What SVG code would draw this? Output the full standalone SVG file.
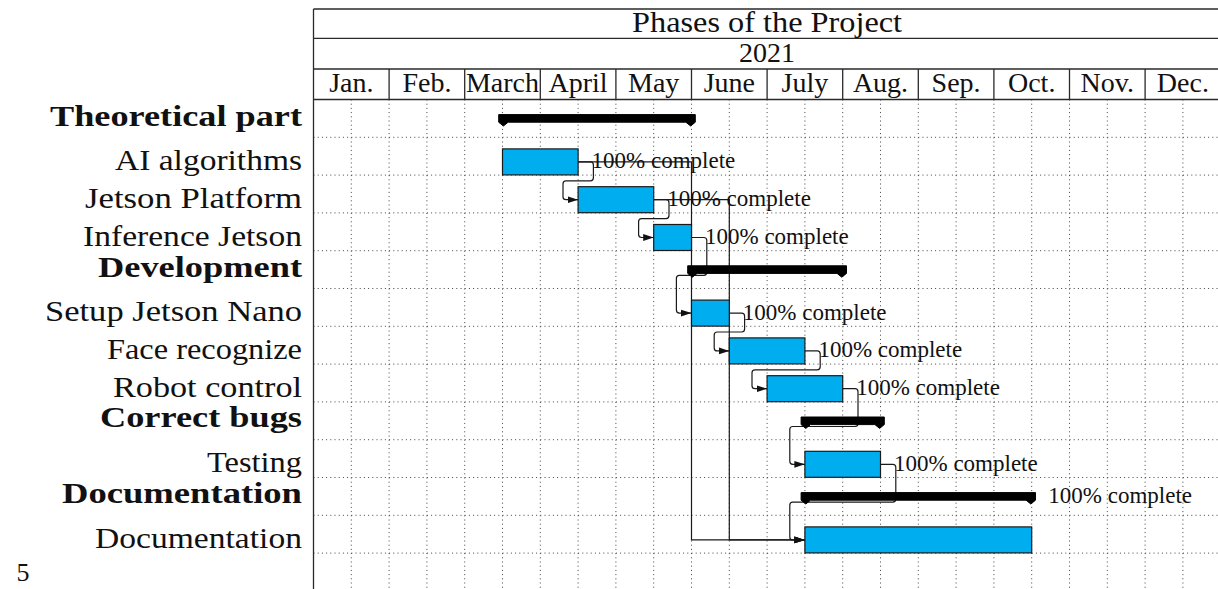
<svg xmlns="http://www.w3.org/2000/svg" width="1218" height="589" viewBox="0 0 1218 589">
<defs>
<marker id="arr" markerUnits="userSpaceOnUse" markerWidth="11" markerHeight="8" refX="10.5" refY="4" orient="auto"><path d="M0,0.6 L10.5,4 L0,7.4 Z" fill="#111"/></marker>
</defs>
<style>
.frame{stroke:#2a2a2a;stroke-width:1.3;fill:none}
.grid{stroke:#444;stroke-width:1;stroke-dasharray:1 3.2;fill:none}
.hdr{font-family:"Liberation Serif",serif;fill:#111;text-anchor:middle}
.lbl{font-family:"Liberation Serif",serif;font-size:29.5px;fill:#111;text-anchor:end}
.b{font-weight:bold}
.bar{fill:#00AEEF;stroke:#1a1a1a;stroke-width:1.2}
.grp{fill:#000;stroke:#000;stroke-width:1;stroke-linejoin:round}
.pct{font-family:"Liberation Serif",serif;font-size:23px;fill:#111}
.link{fill:none;stroke:#1a1a1a;stroke-width:1.2;marker-end:url(#arr)}
</style>
<rect width="1218" height="589" fill="#fff"/>
<g id="grid">
<path class="grid" d="M351.3,99.5V589M389.1,99.5V589M426.9,99.5V589M464.7,99.5V589M502.5,99.5V589M540.3,99.5V589M578.1,99.5V589M615.9,99.5V589M653.7,99.5V589M691.5,99.5V589M729.3,99.5V589M767.1,99.5V589M804.9,99.5V589M842.7,99.5V589M880.5,99.5V589M918.3,99.5V589M956.1,99.5V589M993.9,99.5V589M1031.7,99.5V589M1069.5,99.5V589M1107.3,99.5V589M1145.1,99.5V589M1182.9,99.5V589"/>
<path class="grid" d="M313.5,137.3H1218M313.5,175.1H1218M313.5,212.9H1218M313.5,250.7H1218M313.5,288.5H1218M313.5,326.3H1218M313.5,364.1H1218M313.5,401.9H1218M313.5,439.7H1218M313.5,477.5H1218M313.5,515.3H1218M313.5,553.1H1218"/>
</g>
<g id="header">
<path class="frame" d="M313.5,9V589M313.5,9H1218M313.5,38.3H1218M313.5,69H1218M313.5,99.5H1218"/>
<path class="frame" d="M389.1,69V99.5M464.7,69V99.5M540.3,69V99.5M615.9,69V99.5M691.5,69V99.5M767.1,69V99.5M842.7,69V99.5M918.3,69V99.5M993.9,69V99.5M1069.5,69V99.5M1145.1,69V99.5"/>
<text class="hdr" x="767.1" y="31.5" font-size="29.5" textLength="270" lengthAdjust="spacingAndGlyphs">Phases of the Project</text>
<text class="hdr" x="767.1" y="61.7" font-size="28">2021</text>
<g font-size="28">
<text class="hdr" x="351.3" y="91.7">Jan.</text>
<text class="hdr" x="426.9" y="91.7">Feb.</text>
<text class="hdr" x="502.5" y="91.7">March</text>
<text class="hdr" x="578.1" y="91.7">April</text>
<text class="hdr" x="653.7" y="91.7">May</text>
<text class="hdr" x="729.3" y="91.7">June</text>
<text class="hdr" x="804.9" y="91.7">July</text>
<text class="hdr" x="880.5" y="91.7">Aug.</text>
<text class="hdr" x="956.1" y="91.7">Sep.</text>
<text class="hdr" x="1031.7" y="91.7">Oct.</text>
<text class="hdr" x="1107.3" y="91.7">Nov.</text>
<text class="hdr" x="1182.9" y="91.7">Dec.</text>
</g>
</g>
<g id="connectors">
<path class="link" d="M578.1,161.9 H691.5 V539.9 H804.9"/>
<path class="link" d="M653.7,199.7 H729.3 V539.9 H804.9"/>
<path class="link" d="M578.1,161.9 H590.4 Q593.4,161.9 593.4,164.9 V177.8 Q593.4,180.8 590.4,180.8 H566 Q563,180.8 563,183.8 V196.7 Q563,199.7 566,199.7 H578.1"/>
<path class="link" d="M653.7,199.7 H666 Q669,199.7 669,202.7 V215.6 Q669,218.6 666,218.6 H641.6 Q638.6,218.6 638.6,221.6 V234.5 Q638.6,237.5 641.6,237.5 H653.7"/>
<path class="link" d="M691.5,237.5 H703.8 Q706.8,237.5 706.8,240.5 V272.3 Q706.8,275.3 703.8,275.3 H679.4 Q676.4,275.3 676.4,278.3 V310.1 Q676.4,313.1 679.4,313.1 H691.5"/>
<path class="link" d="M729.3,313.1 H741.6 Q744.6,313.1 744.6,316.1 V329 Q744.6,332 741.6,332 H717.2 Q714.2,332 714.2,335 V347.9 Q714.2,350.9 717.2,350.9 H729.3"/>
<path class="link" d="M804.9,350.9 H817.2 Q820.2,350.9 820.2,353.9 V366.8 Q820.2,369.8 817.2,369.8 H755 Q752,369.8 752,372.8 V385.7 Q752,388.7 755,388.7 H767.1"/>
<path class="link" d="M842.7,388.7 H855 Q858,388.7 858,391.7 V423.5 Q858,426.5 855,426.5 H792.8 Q789.8,426.5 789.8,429.5 V461.3 Q789.8,464.3 792.8,464.3 H804.9"/>
<path class="link" d="M880.5,464.3 H892.8 Q895.8,464.3 895.8,467.3 V499.1 Q895.8,502.1 892.8,502.1 H792.8 Q789.8,502.1 789.8,505.1 V536.9 Q789.8,539.9 792.8,539.9 H804.9"/>
</g>
<g id="theoretical-part">
<text class="lbl b" x="302" y="125.5" textLength="252" lengthAdjust="spacingAndGlyphs">Theoretical part</text>
<path class="grp" d="M498.7,114.6 H695.3 V122.2 L690.6,126 L685.9,122.2 H508.1 L503.4,126 L498.7,122.2 Z"/>
</g>
<g id="ai-algorithms">
<text class="lbl" x="302" y="169.9" textLength="187" lengthAdjust="spacingAndGlyphs">AI algorithms</text>
<rect class="bar" x="502.5" y="148.9" width="75.6" height="26"/>
<text class="pct" x="591.6" y="168.4">100% complete</text>
</g>
<g id="jetson-platform">
<text class="lbl" x="302" y="207.7" textLength="217" lengthAdjust="spacingAndGlyphs">Jetson Platform</text>
<rect class="bar" x="578.1" y="186.7" width="75.6" height="26"/>
<text class="pct" x="667.2" y="206.2">100% complete</text>
</g>
<g id="inference-jetson">
<text class="lbl" x="302" y="245.5" textLength="219" lengthAdjust="spacingAndGlyphs">Inference Jetson</text>
<rect class="bar" x="653.7" y="224.5" width="37.8" height="26"/>
<text class="pct" x="705" y="244">100% complete</text>
</g>
<g id="development">
<text class="lbl b" x="302" y="276.7" textLength="204" lengthAdjust="spacingAndGlyphs">Development</text>
<path class="grp" d="M687.7,265.8 H846.5 V273.4 L841.8,277.2 L837.1,273.4 H697.1 L692.4,277.2 L687.7,273.4 Z"/>
</g>
<g id="setup-jetson-nano">
<text class="lbl" x="302" y="320.5" textLength="257" lengthAdjust="spacingAndGlyphs">Setup Jetson Nano</text>
<rect class="bar" x="691.5" y="300.1" width="37.8" height="26"/>
<text class="pct" x="742.8" y="319.6">100% complete</text>
</g>
<g id="face-recognize">
<text class="lbl" x="302" y="358.6" textLength="195" lengthAdjust="spacingAndGlyphs">Face recognize</text>
<rect class="bar" x="729.3" y="337.9" width="75.6" height="26"/>
<text class="pct" x="818.4" y="357.4">100% complete</text>
</g>
<g id="robot-control">
<text class="lbl" x="302" y="396.7" textLength="189" lengthAdjust="spacingAndGlyphs">Robot control</text>
<rect class="bar" x="767.1" y="375.7" width="75.6" height="26"/>
<text class="pct" x="856.2" y="395.2">100% complete</text>
</g>
<g id="correct-bugs">
<text class="lbl b" x="302" y="426.8" textLength="202" lengthAdjust="spacingAndGlyphs">Correct bugs</text>
<path class="grp" d="M801.1,417 H884.3 V424.6 L879.6,428.4 L874.9,424.6 H810.5 L805.8,428.4 L801.1,424.6 Z"/>
</g>
<g id="testing">
<text class="lbl" x="302" y="472" textLength="95" lengthAdjust="spacingAndGlyphs">Testing</text>
<rect class="bar" x="804.9" y="451.3" width="75.6" height="26"/>
<text class="pct" x="894" y="470.8">100% complete</text>
</g>
<g id="documentation-group">
<text class="lbl b" x="302" y="503.4" textLength="240" lengthAdjust="spacingAndGlyphs">Documentation</text>
<path class="grp" d="M801.1,492.6 H1035.5 V500.2 L1030.8,504 L1026.1,500.2 H810.5 L805.8,504 L801.1,500.2 Z"/>
<text class="pct" x="1048.3" y="503.3">100% complete</text>
</g>
<g id="documentation">
<text class="lbl" x="302" y="548.1" textLength="207" lengthAdjust="spacingAndGlyphs">Documentation</text>
<rect class="bar" x="804.9" y="526.9" width="226.8" height="26"/>
</g>
<text x="23" y="581" font-family="Liberation Serif, serif" font-size="26" text-anchor="middle" fill="#111">5</text>
</svg>
